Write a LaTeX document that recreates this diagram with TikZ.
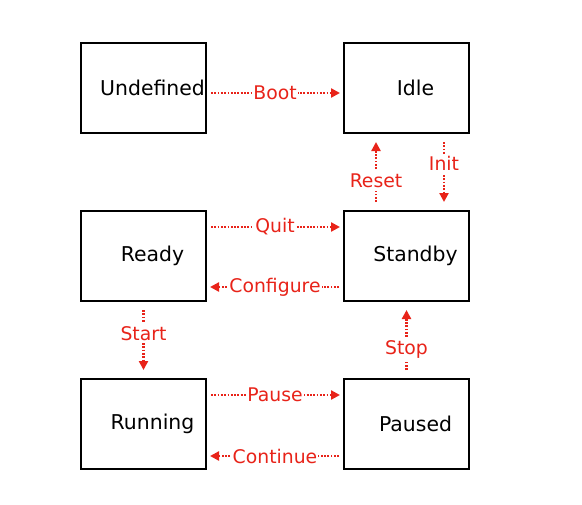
\documentclass[tikz,border=0pt]{standalone}
\usepackage{fontspec}
\setmainfont{DejaVu Sans}
\usetikzlibrary{arrows.meta}
\definecolor{TransRed}{RGB}{232,35,25}

\begin{document}
\begin{tikzpicture}[x=0.5pt,y=-0.5pt,
    state/.style={draw,line width=1pt,minimum width=62.5pt,minimum height=45pt,inner sep=0pt,
      font=\fontsize{10.2}{12}\selectfont,execute at begin node={\hspace*{9pt}}},
    trans/.style={TransRed,line width=1.15pt,dash pattern=on 0.9pt off 0.75pt,
      -{Triangle[length=4.5pt,width=4.5pt]}},
    hedge/.style={trans,shorten <=2pt,shorten >=1.5pt},
    vedge/.style={trans,shorten <=4pt,shorten >=4pt},
    tlabel/.style={fill=white,inner xsep=0.5pt,inner ysep=1.5pt,text=TransRed,font=\fontsize{9.4}{11}\selectfont}]
          \useasboundingbox (0,0) rectangle (582,504);
          % states
          \node[state] (undef) at (143.5,88) {Undefined};
          \node[state] (idle) at (406.5,88) {Idle};
          \node[state] (ready) at (143.5,256) {Ready};
          \node[state] (standby) at (406.5,256) {Standby};
          \node[state] (running) at (143.5,424) {Running};
          \node[state] (paused) at (406.5,424) {Paused};
          % transitions
          \draw[hedge] ([yshift=-2.5pt]undef.east) -- node[tlabel] {Boot} ([yshift=-2.5pt]idle.west);
          \draw[vedge] ([xshift=18.75pt]idle.south) -- node[tlabel,pos=0.39] {Init} ([xshift=18.75pt]standby.north);
          \draw[vedge] ([xshift=-15.25pt]standby.north) -- node[tlabel,pos=0.38] {Reset} ([xshift=-15.25pt]idle.south);
          \draw[hedge] ([yshift=14.5pt]ready.east) -- node[tlabel] {Quit} ([yshift=14.5pt]standby.west);
          \draw[hedge] ([yshift=-15.5pt]standby.west) -- node[tlabel] {Configure} ([yshift=-15.5pt]ready.east);
          \draw[vedge] (ready.south) -- node[tlabel,pos=0.41] {Start} (running.north);
          \draw[vedge] (paused.north) -- node[tlabel,pos=0.38] {Stop} (standby.south);
          \draw[hedge] ([yshift=14.5pt]running.east) -- node[tlabel] {Pause} ([yshift=14.5pt]paused.west);
          \draw[hedge] ([yshift=-16pt]paused.west) -- node[tlabel] {Continue} ([yshift=-16pt]running.east);
        \end{tikzpicture}
\end{document}
